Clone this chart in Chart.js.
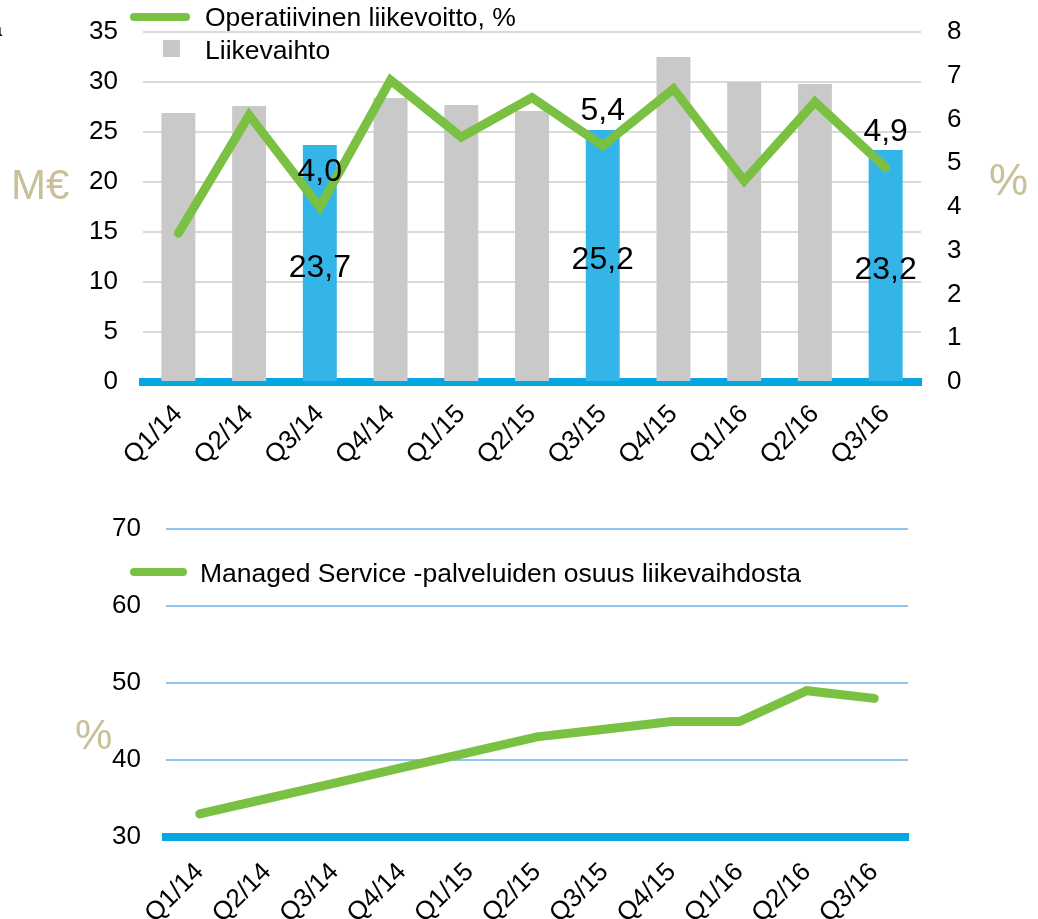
<!DOCTYPE html>
<html>
<head>
<meta charset="utf-8">
<script src="https://cdn.jsdelivr.net/npm/chart.js@4"></script>
<style>
  body { margin: 0; background: #fff; width: 1038px; height: 919px; overflow: hidden; position: relative;
         font-family: 'Liberation Sans', Arial, sans-serif; }
  canvas { position: absolute; left: 0; }
  .txt { position: absolute; white-space: nowrap; color: #000; font-size: 26.5px; line-height: 30px; }
  .unit { position: absolute; color: #c9bf98; line-height: 48px; }
  .swatch { position: absolute; }
</style>
</head>
<body>
<canvas id="graph1" width="1038" height="470" style="top:0"></canvas>
<canvas id="graph2" width="1038" height="449" style="top:470px"></canvas>

<!-- legendes et unites -->
<div class="txt" style="left:-9px; top:14px; font-size:20px">a</div>
<div class="swatch" style="left:130px; top:13px; width:60px; height:8px; border-radius:4px; background:#7ac143"></div>
<div class="txt" style="left:205px; top:2px">Operatiivinen liikevoitto, %</div>
<div class="swatch" style="left:163px; top:40px; width:17px; height:17px; background:#c8c8c8"></div>
<div class="txt" style="left:205px; top:35px">Liikevaihto</div>
<div class="unit" style="left:11px; top:161px; font-size:42px">M€</div>
<div class="unit" style="left:989px; top:156px; font-size:44px">%</div>

<div class="swatch" style="left:130px; top:568px; width:57px; height:8px; border-radius:4px; background:#7ac143"></div>
<div class="txt" style="left:200px; top:558px">Managed Service -palveluiden osuus liikevaihdosta</div>
<div class="unit" style="left:75px; top:711px; font-size:42px">%</div>

<script>
// donnees
var quarters = ['Q1/14', 'Q2/14', 'Q3/14', 'Q4/14', 'Q1/15', 'Q2/15', 'Q3/15', 'Q4/15', 'Q1/16', 'Q2/16', 'Q3/16']
var liikevaihto = [26.9, 27.6, 23.7, 28.4, 27.7, 27.1, 25.2, 32.5, 30.0, 29.8, 23.2]
var liikevoittoPct = [3.4, 6.1, 4.0, 6.9, 5.6, 6.5, 5.4, 6.7, 4.6, 6.4, 4.9]
var managedServicePct = [33, 35, 37, 39, 41, 43, 44, 45, 45, 49, 48]
var highlighted = [2, 6, 10] // Q3 de chaque annee

var tickFont = { family: 'Liberation Sans', size: 26 }
var green = '#7ac143'
var baseBlue = '#05a6e1'
var noTick = 'rgba(0,0,0,0)'

function fmt(v) {
    return v.toFixed(1).replace('.', ',')
}

// etiquettes des valeurs Q3
var valueLabels = {
    id: 'valueLabels',
    afterDatasetsDraw: function (chart) {
        var ctx = chart.ctx
        var bars = chart.getDatasetMeta(1).data
        var pts = chart.getDatasetMeta(0).data
        ctx.save()
        ctx.fillStyle = '#000'
        ctx.font = '32px "Liberation Sans"'
        ctx.textAlign = 'center'
        ctx.textBaseline = 'middle'
        highlighted.forEach(function (i) {
            var b = bars[i]
            ctx.fillText(fmt(liikevaihto[i]), b.x, (b.y + b.base) / 2 + 5)
            var p = pts[i]
            ctx.fillText(fmt(liikevoittoPct[i]), p.x, p.y - 35)
        })
        ctx.restore()
    }
}

/*Création graph 1*/
var ctx = document.getElementById('graph1').getContext('2d')
var graph1 = new Chart(ctx, {
    type: 'bar',
    data: {
        labels: quarters,
        datasets: [
            {
                type: 'line',
                label: 'Operatiivinen liikevoitto, %',
                data: liikevoittoPct,
                yAxisID: 'y1',
                borderColor: green,
                borderWidth: 9,
                borderCapStyle: 'round',
                borderJoinStyle: 'miter',
                pointRadius: 0,
                tension: 0,
                order: 0
            },
            {
                label: 'Liikevaihto',
                data: liikevaihto,
                yAxisID: 'y',
                backgroundColor: liikevaihto.map(function (v, i) {
                    return highlighted.indexOf(i) >= 0 ? '#33b5e8' : '#c9c9c9'
                }),
                categoryPercentage: 1,
                barPercentage: 0.48,
                order: 1
            }
        ]
    },
    options: {
        responsive: false,
        animation: false,
        layout: { padding: { top: 32, left: 0, right: 0, bottom: 0 } },
        plugins: { legend: { display: false }, tooltip: { enabled: false } },
        scales: {
            x: {
                grid: { display: false, drawTicks: false },
                border: { display: true, color: baseBlue, width: 8 },
                ticks: { color: '#000', font: tickFont, maxRotation: 45, minRotation: 45, padding: 17 },
                afterFit: function (s) { s.height = 88 }
            },
            y: {
                position: 'left',
                min: 0, max: 35,
                ticks: { stepSize: 5, color: '#000', font: tickFont, padding: 3 },
                grid: { color: '#d9d9d9', lineWidth: 2, drawTicks: true, tickLength: 22, tickColor: noTick },
                border: { display: false },
                afterFit: function (s) { s.width = 143 }
            },
            y1: {
                position: 'right',
                min: 0, max: 8,
                ticks: { stepSize: 1, color: '#000', font: tickFont, padding: 3 },
                grid: { drawOnChartArea: false, drawTicks: true, tickLength: 23, tickColor: noTick },
                border: { display: false },
                afterFit: function (s) { s.width = 117 }
            }
        }
    },
    plugins: [valueLabels]
})

/*Création graph 2*/
var ctx2 = document.getElementById('graph2').getContext('2d')
var graph2 = new Chart(ctx2, {
    type: 'line',
    data: {
        labels: quarters,
        datasets: [
            {
                label: 'Managed Service -palveluiden osuus liikevaihdosta',
                data: managedServicePct,
                borderColor: green,
                borderWidth: 9,
                borderCapStyle: 'round',
                borderJoinStyle: 'miter',
                pointRadius: 0,
                tension: 0
            }
        ]
    },
    options: {
        responsive: false,
        animation: false,
        layout: { padding: { top: 59, left: 0, right: 130, bottom: 0 } },
        plugins: { legend: { display: false }, tooltip: { enabled: false } },
        scales: {
            x: {
                offset: true,
                grid: { display: false, drawTicks: false },
                border: { display: true, color: baseBlue, width: 8 },
                ticks: { color: '#000', font: tickFont, maxRotation: 45, minRotation: 45, padding: 20 },
                afterFit: function (s) { s.height = 82 }
            },
            y: {
                min: 30, max: 70,
                ticks: { stepSize: 10, color: '#000', font: tickFont, padding: 3 },
                grid: { color: '#8fc6ec', lineWidth: 2, drawTicks: true, tickLength: 22, tickColor: noTick },
                border: { display: false },
                afterFit: function (s) { s.width = 166 }
            }
        }
    }
})
</script>
</body>
</html>
